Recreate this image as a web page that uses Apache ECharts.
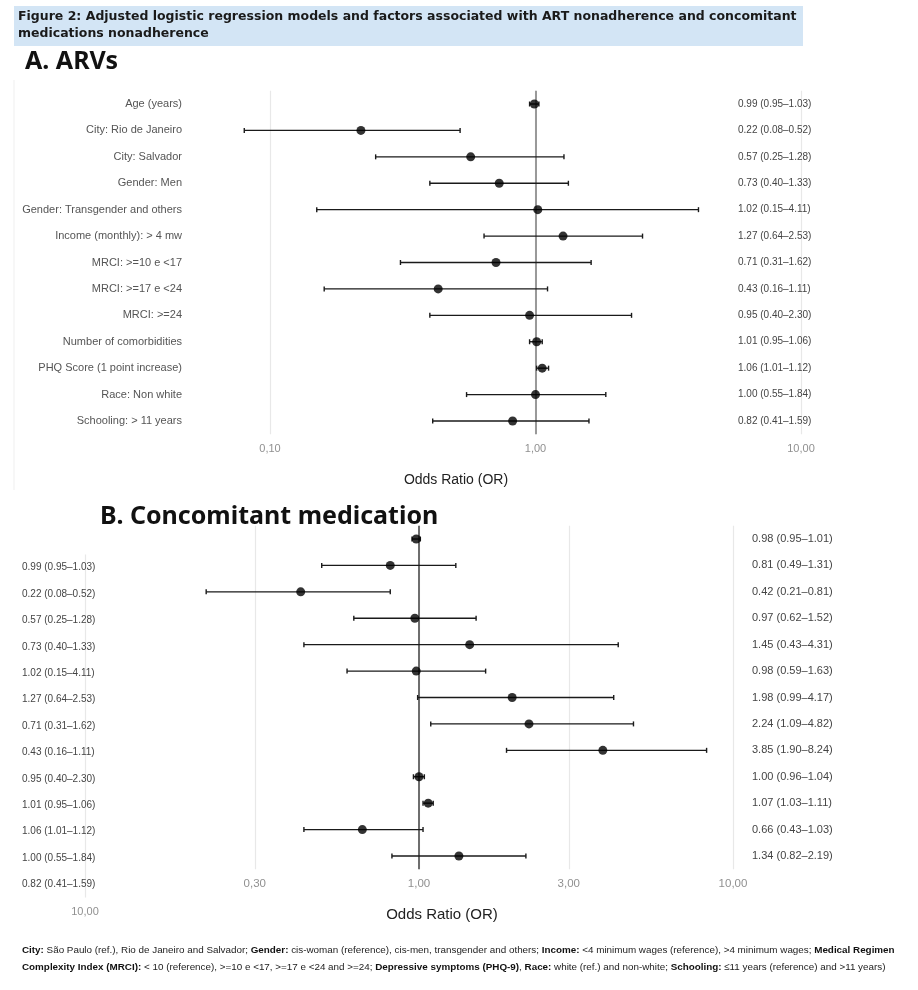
<!DOCTYPE html>
<html>
<head>
<meta charset="utf-8">
<title>Figure 2</title>
<script src="https://cdn.jsdelivr.net/npm/echarts@6/dist/echarts.min.js"></script>
<style>
  html, body {margin: 0; padding: 0; background: #fff;}
  #chart {width: 918px; height: 990px;}
</style>
</head>
<body>
<div id="chart"></div>
<script>
(function(){
  'use strict';

  /*
    data
  */
  var factors = [
    'Age (years)', 'City: Rio de Janeiro', 'City: Salvador', 'Gender: Men',
    'Gender: Transgender and others', 'Income (monthly): > 4 mw', 'MRCI: >=10 e <17',
    'MRCI: >=17 e <24', 'MRCI: >=24', 'Number of comorbidities',
    'PHQ Score (1 point increase)', 'Race: Non white', 'Schooling: > 11 years'
  ];

  // A. ARVs
  var arvOR   = [0.99, 0.22, 0.57, 0.73, 1.02, 1.27, 0.71, 0.43, 0.95, 1.01, 1.06, 1.00, 0.82];
  var arvLow  = [0.95, 0.08, 0.25, 0.40, 0.15, 0.64, 0.31, 0.16, 0.40, 0.95, 1.01, 0.55, 0.41];
  var arvHigh = [1.03, 0.52, 1.28, 1.33, 4.11, 2.53, 1.62, 1.11, 2.30, 1.06, 1.12, 1.84, 1.59];

  // B. Concomitant medication
  var medOR   = [0.98, 0.81, 0.42, 0.97, 1.45, 0.98, 1.98, 2.24, 3.85, 1.00, 1.07, 0.66, 1.34];
  var medLow  = [0.95, 0.49, 0.21, 0.62, 0.43, 0.59, 0.99, 1.09, 1.90, 0.96, 1.03, 0.43, 0.82];
  var medHigh = [1.01, 1.31, 0.81, 1.52, 4.31, 1.63, 4.17, 4.82, 8.24, 1.04, 1.11, 1.03, 2.19];

  // x tick values (odds ratio) and the reference line
  var arvTicks = [0.1, 1, 10];
  var medTicks = [0.3, 1, 3, 10];
  var ghostTicks = [10];
  var refOR = 1;

  /* ----------------- helpers ----------------- */

  var lg = function(v){ return Math.log(v) / Math.LN10; };

  var fmtTick = function(v){
    return Math.pow(10, v).toFixed(2).replace('.', ',');
  };

  var fmtCI = function(o, l, h){
    return o.toFixed(2) + ' (' + l.toFixed(2) + '\u2013' + h.toFixed(2) + ')';
  };

  var labelsOf = function(or, lo, hi){
    return or.map(function(o, i){ return fmtCI(o, lo[i], hi[i]); });
  };

  var arvLabels = labelsOf(arvOR, arvLow, arvHigh),
      medLabels = labelsOf(medOR, medLow, medHigh);

  var sans = "'Liberation Sans', Arial, sans-serif";

  /*
    error bar: horizontal line low..high with small caps
  */
  var renderCI = function(params, api){
    var lo = api.coord([api.value(0), api.value(2)]),
        hi = api.coord([api.value(1), api.value(2)]),
        cap = 2.5,
        style = {stroke: '#1a1a1a', lineWidth: 1.4};
    return {
      type: 'group',
      children: [
        {type: 'line', shape: {x1: lo[0], y1: lo[1], x2: hi[0], y2: hi[1]}, style: style},
        {type: 'line', shape: {x1: lo[0], y1: lo[1] - cap, x2: lo[0], y2: lo[1] + cap}, style: style},
        {type: 'line', shape: {x1: hi[0], y1: hi[1] - cap, x2: hi[0], y2: hi[1] + cap}, style: style}
      ]
    };
  };

  var ciData = function(lo, hi){
    return lo.map(function(l, i){ return [lg(l), lg(hi[i]), i]; });
  };
  var pointData = function(or){
    return or.map(function(o, i){ return [lg(o), i]; });
  };

  var xAxisOf = function(grid, min, max, ticks, fontSize, color){
    var vals = ticks.map(lg);
    return {
      type: 'value', gridIndex: grid, min: min, max: max,
      axisLine: {show: false},
      axisTick: {show: false, customValues: vals},
      splitLine: {show: true, lineStyle: {color: '#e8e8e8', width: 1.2}},
      axisLabel: {
        customValues: vals, formatter: fmtTick, margin: 9,
        fontFamily: sans, fontSize: fontSize, color: color
      }
    };
  };

  var catAxis = function(grid, data, extra){
    var axis = {
      type: 'category', gridIndex: grid, data: data, inverse: true,
      axisLine: {show: false}, axisTick: {show: false}, splitLine: {show: false}
    };
    return Object.assign(axis, extra);
  };

  var panelSeries = function(xi, yi, lo, hi, or, refColor){
    return [{
      type: 'custom', xAxisIndex: xi, yAxisIndex: yi,
      renderItem: renderCI, encode: {x: [0, 1], y: 2},
      data: ciData(lo, hi), silent: true, z: 3
    }, {
      type: 'scatter', xAxisIndex: xi, yAxisIndex: yi,
      data: pointData(or), symbolSize: 9, itemStyle: {color: '#000'},
      silent: true, z: 4,
      markLine: {
        silent: true, symbol: 'none', label: {show: false},
        lineStyle: {color: refColor, width: 2, type: 'solid'},
        data: [{xAxis: lg(refOR)}], z: 2
      }
    }];
  };

  var noteFont = "'Liberation Sans', Arial, sans-serif", noteSize = 9.85;

  /* ----------------- chart ----------------- */

  var option = {
    backgroundColor: '#fff',
    animation: false,
    grid: [
      {left: 270, right: 117, top: 90.8, height: 343.4},
      {left: 167.8, width: 565.2, top: 525.8, height: 343.4},
      {left: 85, width: 20, top: 554.5, height: 343}
    ],
    xAxis: [
      xAxisOf(0, -1, 1, arvTicks, 11, '#909090'),
      xAxisOf(1, -0.8, 1, medTicks, 11.5, '#909090'),
      xAxisOf(2, 1, 1.2, ghostTicks, 11, '#909090')
    ],
    yAxis: [
      catAxis(0, factors, {position: 'left', axisLabel: {margin: 88, fontFamily: sans, fontSize: 11, color: '#555'}}),
      catAxis(0, arvLabels, {position: 'right', offset: -71, axisLabel: {margin: 8, fontFamily: sans, fontSize: 10, color: '#444'}}),
      catAxis(1, factors, {position: 'left', axisLabel: {show: false}}),
      catAxis(1, medLabels, {position: 'right', axisLabel: {margin: 19, fontFamily: sans, fontSize: 11, color: '#444'}}),
      catAxis(2, arvLabels, {position: 'left', axisLabel: {margin: 63, align: 'left', fontFamily: sans, fontSize: 10, color: '#444'}})
    ],
    series: [].concat(
      panelSeries(0, 0, arvLow, arvHigh, arvOR, '#999999'),
      panelSeries(1, 2, medLow, medHigh, medOR, '#6e6e6e')
    ),
    graphic: [
      {type: 'rect', shape: {x: 14, y: 6, width: 789, height: 40}, style: {fill: '#d3e5f5'}, z: -1},
      {type: 'line', shape: {x1: 14, y1: 80, x2: 14, y2: 490}, style: {stroke: '#efefef', lineWidth: 1}},
      {type: 'text', x: 18, y: 17, style: {
        text: 'Figure 2: Adjusted logistic regression models and factors associated with ART nonadherence and concomitant',
        font: "bold 12.5px 'DejaVu Sans', sans-serif", fill: '#1a1a1a', verticalAlign: 'middle'}},
      {type: 'text', x: 18, y: 34, style: {
        text: 'medications nonadherence',
        font: "bold 12.5px 'DejaVu Sans', sans-serif", fill: '#1a1a1a', verticalAlign: 'middle'}},
      {type: 'text', x: 25, y: 62, style: {
        text: 'A. ARVs', font: "bold 25px 'Noto Sans', sans-serif", fill: '#111', verticalAlign: 'middle'}},
      {type: 'text', x: 100, y: 517, style: {
        text: 'B. Concomitant medication', font: "bold 25px 'Noto Sans', sans-serif", fill: '#111', verticalAlign: 'middle'}},
      {type: 'text', x: 456, y: 480, style: {
        text: 'Odds Ratio (OR)', font: "14px 'Liberation Sans', Arial, sans-serif", fill: '#222',
        align: 'center', verticalAlign: 'middle'}},
      {type: 'text', x: 442, y: 915, style: {
        text: 'Odds Ratio (OR)', font: "15px 'Liberation Sans', Arial, sans-serif", fill: '#222',
        align: 'center', verticalAlign: 'middle'}},
      {type: 'text', x: 22, y: 950, style: {
        text: '{b|City:} S\u00e3o Paulo (ref.), Rio de Janeiro and Salvador; {b|Gender:} cis-woman (reference), cis-men, transgender and others; {b|Income:} <4 minimum wages (reference), >4 minimum wages; {b|Medical Regimen}',
        fontFamily: noteFont, fontSize: noteSize, fill: '#222', verticalAlign: 'middle',
        rich: {b: {fontWeight: 'bold', fontFamily: noteFont, fontSize: noteSize, fill: '#111'}}}},
      {type: 'text', x: 22, y: 967, style: {
        text: '{b|Complexity Index (MRCI):} < 10 (reference), >=10 e <17, >=17 e <24 and >=24; {b|Depressive symptoms (PHQ-9)}, {b|Race:} white (ref.) and non-white; {b|Schooling:} \u226411 years (reference) and >11 years)',
        fontFamily: noteFont, fontSize: noteSize, fill: '#222', verticalAlign: 'middle',
        rich: {b: {fontWeight: 'bold', fontFamily: noteFont, fontSize: noteSize, fill: '#111'}}}}
    ]
  };

  echarts.init(document.getElementById('chart'), null, {renderer: 'canvas'}).setOption(option);
})();
</script>
</body>
</html>
